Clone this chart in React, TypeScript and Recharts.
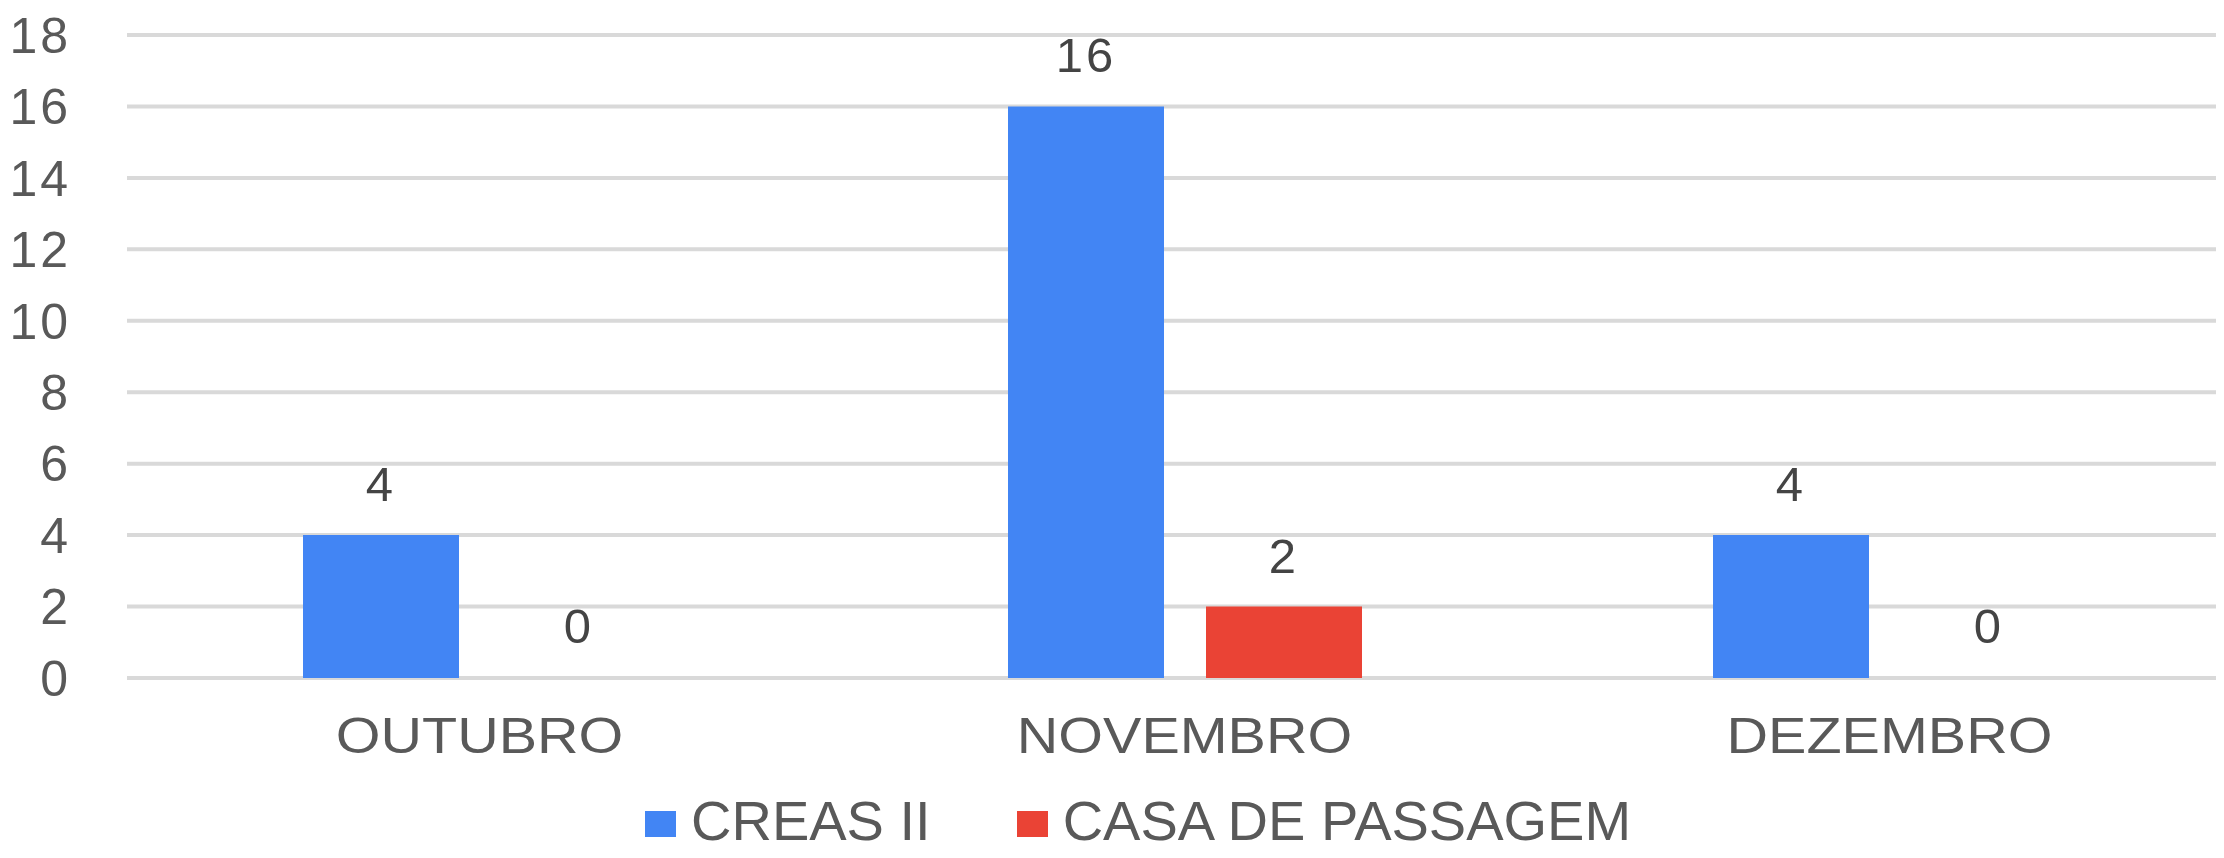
import { BarChart, Bar, XAxis, YAxis, CartesianGrid, Legend, LabelList, Rectangle } from 'recharts'

const months = ['OUTUBRO', 'NOVEMBRO', 'DEZEMBRO']
const creas = [4, 16, 4]
const casa = [0, 2, 0]
const yTicks = [0, 2, 4, 6, 8, 10, 12, 14, 16, 18]

const SERIES = [
  { key: 'creas', name: 'CREAS II', color: '#4285F4' },
  { key: 'casa', name: 'CASA DE PASSAGEM', color: '#EA4335' },
]

const FONT = '"Liberation Sans", Arial, sans-serif'

const data = months.map((m, i) => ({ month: m, creas: creas[i], casa: casa[i] }))

// month labels in the source are drawn a bit wider than plain Arial
function MonthTick(props: any) {
  const { x, y, payload } = props
  return (
    <g transform={`translate(${x},${y})`}>
      <text
        transform="scale(1.15,1)"
        textAnchor="middle"
        dy="0.72em"
        fontFamily={FONT}
        fontSize={50}
        fill="#595959"
      >
        {payload.value}
      </text>
    </g>
  )
}

// zero values keep their label but draw no bar
function BarShape(props: any) {
  if (!props.value) return <g />
  return <Rectangle {...props} />
}

function LegendBox() {
  return (
    <div
      style={{
        display: 'flex',
        alignItems: 'center',
        paddingLeft: 645,
        paddingTop: 5,
        fontFamily: FONT,
        fontSize: 56,
        lineHeight: 1,
        color: '#595959',
      }}
    >
      {SERIES.map((s, i) => (
        <div
          key={s.key}
          style={{ display: 'flex', alignItems: 'center', marginRight: i === 0 ? 86 : 0 }}
        >
          <span
            style={{
              display: 'inline-block',
              width: 31,
              height: 26,
              background: s.color,
              marginRight: 15,
              marginTop: 6,
            }}
          />
          <span>{s.name}</span>
        </div>
      ))}
    </div>
  )
}

export default function App() {
  return (
    <div
      style={{
        margin: -8,
        width: 2224,
        height: 858,
        overflow: 'hidden',
        background: '#fff',
        position: 'relative',
      }}
    >
      <BarChart
        width={2242}
        height={858}
        data={data}
        margin={{ top: 35, right: 0, bottom: 0, left: 0 }}
        barGap={42}
        barSize={156}
      >
        <CartesianGrid vertical={false} stroke="#d9d9d9" strokeWidth={4} />
        <XAxis
          dataKey="month"
          axisLine={false}
          tickLine={false}
          height={110}
          tickMargin={33}
          tick={<MonthTick />}
        />
        <YAxis
          domain={[0, 18]}
          ticks={yTicks}
          axisLine={false}
          tickLine={false}
          width={127}
          tickMargin={50}
          tick={{ fontFamily: FONT, fontSize: 50, fill: '#595959', letterSpacing: 3 }}
        />
        <Legend
          verticalAlign="bottom"
          height={70}
          wrapperStyle={{ left: 0, width: 2224 }}
          content={() => <LegendBox />}
        />
        {SERIES.map((s) => (
          <Bar
            key={s.key}
            dataKey={s.key}
            name={s.name}
            fill={s.color}
            minPointSize={1}
            shape={<BarShape />}
            isAnimationActive={false}
          >
            <LabelList
              dataKey={s.key}
              position="top"
              offset={34}
              style={{ fontFamily: FONT, fontSize: 49, fill: '#444444', letterSpacing: 3 }}
            />
          </Bar>
        ))}
      </BarChart>
    </div>
  )
}
